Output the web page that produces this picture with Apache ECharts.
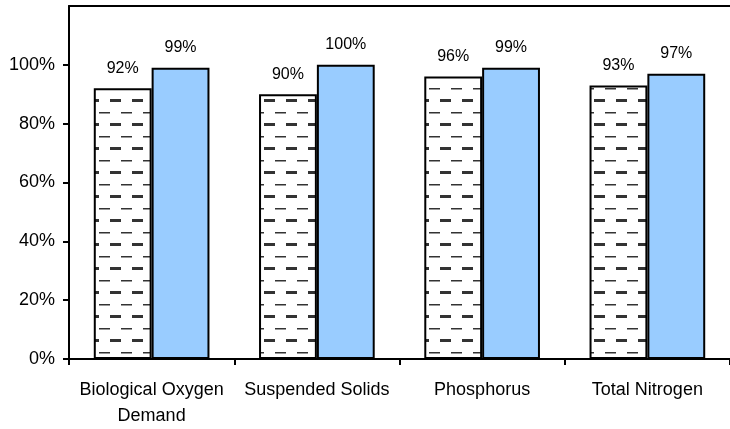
<!DOCTYPE html>
<html>
<head>
<meta charset="utf-8">
<script src="https://cdn.jsdelivr.net/npm/echarts@6/dist/echarts.min.js"></script>
<style>
  html, body { margin: 0; padding: 0; background: #fff; }
  #chart { width: 730px; height: 429px; }
</style>
</head>
<body>
<div id="chart"></div>
<script>
const categories = ['Biological Oxygen\nDemand', 'Suspended Solids', 'Phosphorus', 'Total Nitrogen'];
const patternValues = [92, 90, 96, 93];
const blueValues = [99, 100, 99, 97];
const yTicks = [0, 20, 40, 60, 80, 100];

// dashed pattern fill: thick dashes and thin dashes on alternating rows
function makePattern() {
  const c = document.createElement('canvas');
  c.width = 22; c.height = 24;
  const ctx = c.getContext('2d');
  ctx.fillStyle = '#fff';
  ctx.fillRect(0, 0, 22, 24);
  ctx.fillStyle = '#333';
  ctx.fillRect(0, 3, 11, 3);
  ctx.fillRect(11, 16, 11, 1.5);
  return c;
}

const chart = echarts.init(document.getElementById('chart'));
const labelStyle = {
  show: true,
  position: 'top',
  distance: 12,
  formatter: '{c}%',
  fontFamily: 'Liberation Sans, Arial',
  fontSize: 16,
  color: '#000'
};

chart.setOption({
  animation: false,
  grid: { left: 69, width: 664, top: 6, bottom: 69 },
  xAxis: [
    {
      type: 'category',
      data: categories,
      axisLine: { lineStyle: { color: '#000', width: 2 } },
      axisTick: { show: true, interval: 0, length: 6, lineStyle: { color: '#000', width: 2 } },
      axisLabel: {
        interval: 0,
        color: '#000',
        fontFamily: 'Liberation Sans, Arial',
        fontSize: 18,
        lineHeight: 26,
        margin: 18
      }
    },
    {
      type: 'category',
      position: 'top',
      data: categories,
      axisLine: { lineStyle: { color: '#000', width: 2 } },
      axisTick: { show: false },
      axisLabel: { show: false }
    }
  ],
  yAxis: {
    type: 'value',
    min: 0,
    max: 120,
    interval: 20,
    axisLine: { show: true, lineStyle: { color: '#000', width: 2 } },
    axisTick: { show: true, length: 6, customValues: yTicks, lineStyle: { color: '#000', width: 2 } },
    splitLine: { show: false },
    axisLabel: {
      customValues: yTicks,
      formatter: v => v + '%',
      color: '#000',
      fontFamily: 'Liberation Sans, Arial',
      fontSize: 18,
      margin: 14
    }
  },
  series: [
    {
      type: 'bar',
      data: patternValues,
      barWidth: '35%',
      barGap: '0%',
      itemStyle: {
        color: { image: makePattern(), repeat: 'repeat' },
        borderColor: '#000',
        borderWidth: 2
      },
      label: labelStyle
    },
    {
      type: 'bar',
      data: blueValues,
      barWidth: '35%',
      itemStyle: { color: '#99ccff', borderColor: '#000', borderWidth: 2 },
      label: labelStyle
    }
  ]
});
</script>
</body>
</html>
